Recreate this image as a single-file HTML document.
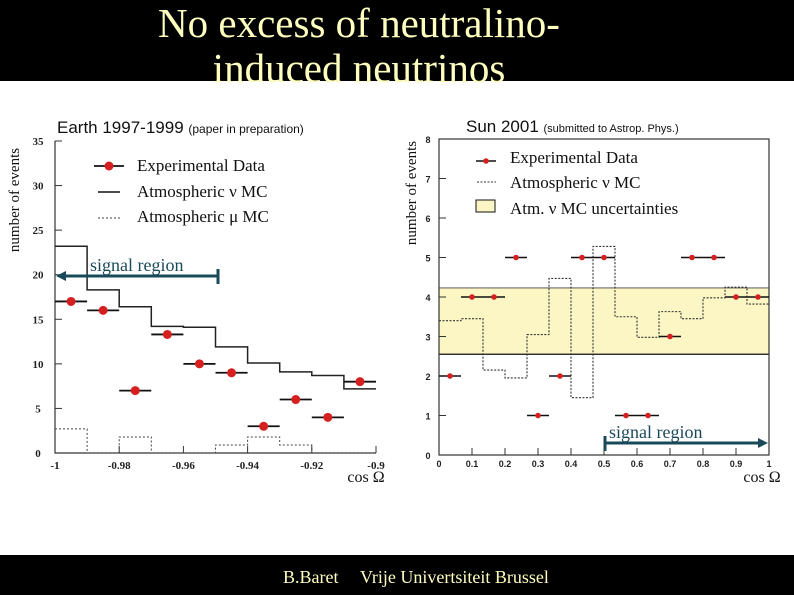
<!DOCTYPE html>
<html><head><meta charset="utf-8"><style>
html,body{margin:0;padding:0;background:#fff;}
svg{display:block;font-family:"Liberation Serif",serif;}
</style></head><body>
<svg id="s" width="794" height="595" xmlns="http://www.w3.org/2000/svg">
<rect x="0" y="0" width="794" height="81" fill="#000"/>
<text x="359" y="37" font-size="41" fill="#ffffc0" text-anchor="middle">No excess of neutralino-</text>
<text x="359" y="82" font-size="41" fill="#ffffc0" text-anchor="middle">induced neutrinos</text>
<text x="57" y="133" font-family="Liberation Sans,sans-serif" font-size="17" fill="#111">Earth 1997-1999 <tspan font-size="12">(paper in preparation)</tspan></text>
<text x="466" y="132" font-family="Liberation Sans,sans-serif" font-size="17" fill="#111">Sun 2001 <tspan font-size="11">(submitted to Astrop. Phys.)</tspan></text>
<g id="L"></g>
<g id="R"></g>
<rect x="0" y="555" width="794" height="40" fill="#000"/>
<text x="283" y="583" font-size="18" fill="#ffffc0">B.Baret</text>
<text x="360" y="583" font-size="18" fill="#ffffc0">Vrije Univertsiteit Brussel</text>
</svg>
<script>
// Earth chart data
const earthEdges=[-1,-0.99,-0.98,-0.97,-0.96,-0.95,-0.94,-0.93,-0.92,-0.91,-0.9];
const earthData=[17,16,7,13.3,10,9,3,6,4,8];
const earthNuMC=[23.2,18.3,16.4,14.2,14.1,11.9,10.1,9.1,8.7,7.2];
const earthMuMC=[2.7,0,1.8,0,0,0.9,1.8,0.9,0,0];
const earthXTicks=[-1,-0.98,-0.96,-0.94,-0.92,-0.9];
const earthXLabels=["-1","-0.98","-0.96","-0.94","-0.92","-0.9"];
const earthYTicks=[0,5,10,15,20,25,30,35];
// Sun chart data
const sunEdges=[0,0.0667,0.1333,0.2,0.2667,0.3333,0.4,0.4667,0.5333,0.6,0.6667,0.7333,0.8,0.8667,0.9333,1];
const sunData=[2,4,4,5,1,2,5,5,1,1,3,5,5,4,4];
const sunMC=[3.4,3.45,2.15,1.95,3.05,4.47,1.45,5.28,3.5,2.98,3.63,3.45,3.98,4.25,3.82];
const sunBand=[2.55,4.23];
const sunXTicks=[0,0.1,0.2,0.3,0.4,0.5,0.6,0.7,0.8,0.9,1];
const sunXLabels=["0","0.1","0.2","0.3","0.4","0.5","0.6","0.7","0.8","0.9","1"];
const sunYTicks=[0,1,2,3,4,5,6,7,8];

const NS="http://www.w3.org/2000/svg";
function mk(p,t,a){const e=document.createElementNS(NS,t);for(const k in a)e.setAttribute(k,a[k]);p.appendChild(e);return e;}
function stepPath(edges,vals,sx,sy){let d="M"+sx(edges[0])+","+sy(vals[0]);for(let i=0;i<vals.length;i++){d+=" L"+sx(edges[i])+","+sy(vals[i])+" L"+sx(edges[i+1])+","+sy(vals[i]);if(i+1<vals.length)d+=" L"+sx(edges[i+1])+","+sy(vals[i+1]);}return d;}

// LEFT
(function(){
const g=document.getElementById('L');
const x0=55,x1=376,y0=453,y1=141;
const sx=v=>x0+(v+1)/0.1*(x1-x0), sy=v=>y0-v/35*(y0-y1);
let e=mk(g,'path',{d:`M${x0},${y1} L${x0},${y0} L${x1},${y0}`,fill:'none',stroke:'#333','stroke-width':1.2});


earthYTicks.forEach(t=>{
 let l=mk(g,'line',{x1:x0,x2:x0+7,y1:sy(t),y2:sy(t),stroke:'#333'});
 
 
 let tx=mk(g,'text',{x:x0-17,y:sy(t)+4,'font-size':11,'font-weight':'bold','text-anchor':'middle',fill:'#222'});tx.textContent=t;
 
 
});
earthXTicks.forEach((t,i)=>{
 let l=mk(g,'line',{x1:sx(t),x2:sx(t),y1:y0,y2:y0-7,stroke:'#333'});
 
 
 let tx=mk(g,'text',{x:sx(t),y:y0+16,'font-size':11,'font-weight':'bold','text-anchor':'middle',fill:'#222'});tx.textContent=earthXLabels[i];
 
 
});
let mc=mk(g,'path',{d:stepPath(earthEdges,earthNuMC,sx,sy),fill:'none',stroke:'#222','stroke-width':1.5});


let mu=mk(g,'path',{d:stepPath(earthEdges,earthMuMC,sx,sy),fill:'none',stroke:'#444','stroke-width':1,'stroke-dasharray':'2,2'});


earthData.forEach((v,i)=>{
 const a=sx(earthEdges[i]),b=sx(earthEdges[i+1]);
 let l=mk(g,'line',{x1:a,x2:b,y1:sy(v),y2:sy(v),stroke:'#111','stroke-width':1.8});
 
 
 let c=mk(g,'circle',{cx:(a+b)/2,cy:sy(v),r:4.5,fill:'#d62020'});
 
 
});
let yt=mk(g,'text',{transform:'translate(19,200) rotate(-90)','font-size':15,'text-anchor':'middle',fill:'#111'});yt.textContent='number of events';


let xt=mk(g,'text',{x:366,y:482,'font-size':16,'text-anchor':'middle',fill:'#111'});xt.textContent='cos Ω';


const lg=mk(g,'g',{});
mk(lg,'line',{x1:94,x2:124,y1:166,y2:166,stroke:'#111','stroke-width':1.8});
mk(lg,'circle',{cx:109,cy:166,r:4.5,fill:'#d62020'});
mk(lg,'line',{x1:98,x2:120,y1:192,y2:192,stroke:'#111','stroke-width':1.5});
mk(lg,'line',{x1:98,x2:120,y1:218,y2:218,stroke:'#444','stroke-dasharray':'2,2'});
[['Experimental Data',171],['Atmospheric ν MC',197],['Atmospheric μ MC',222]].forEach(([t,y])=>{let tx=mk(lg,'text',{x:137,y:y,'font-size':17,fill:'#111'});tx.textContent=t;

});
let sr=mk(g,'g',{});
mk(sr,'line',{x1:62,x2:218,y1:276,y2:276,stroke:'#1a4a5a','stroke-width':3});
mk(sr,'path',{d:'M56,276 L66,271 L66,281 Z',fill:'#1a4a5a'});
mk(sr,'line',{x1:218,x2:218,y1:269,y2:284,stroke:'#1a4a5a','stroke-width':3});
let st=mk(sr,'text',{x:90,y:271,'font-size':18,fill:'#1a4a5a'});st.textContent='signal region';
})();

// RIGHT
(function(){
const g=document.getElementById('R');
const x0=439,x1=769,y0=455,y1=139;
const sx=v=>x0+v*(x1-x0), sy=v=>y0-v/8*(y0-y1);
let band=mk(g,'rect',{x:x0,y:sy(sunBand[1]),width:x1-x0,height:sy(sunBand[0])-sy(sunBand[1]),fill:'#fbf6c4'});


let bl=mk(g,'line',{x1:x0,x2:x1,y1:sy(sunBand[0]),y2:sy(sunBand[0]),stroke:'#111','stroke-width':1.3});


let bu=mk(g,'line',{x1:x0,x2:x1,y1:sy(sunBand[1]),y2:sy(sunBand[1]),stroke:'#444','stroke-width':0.8});


let ax=mk(g,'rect',{x:x0,y:y1,width:x1-x0,height:y0-y1,fill:'none',stroke:'#333','stroke-width':1.2});


sunYTicks.forEach(t=>{
 let l=mk(g,'line',{x1:x0,x2:x0+7,y1:sy(t),y2:sy(t),stroke:'#333'});
 
 
 let tx=mk(g,'text',{x:x0-11,y:sy(t)+4,'font-size':9,'font-family':'Liberation Sans,sans-serif','font-weight':'bold','text-anchor':'middle',fill:'#222'});tx.textContent=t;
 
 
});
sunXTicks.forEach((t,i)=>{
 let l=mk(g,'line',{x1:sx(t),x2:sx(t),y1:y0,y2:y0-7,stroke:'#333'});
 
 
 let tx=mk(g,'text',{x:sx(t),y:y0+12,'font-size':9,'font-family':'Liberation Sans,sans-serif','font-weight':'bold','text-anchor':'middle',fill:'#222'});tx.textContent=sunXLabels[i];
 
 
});
let mc=mk(g,'path',{d:stepPath(sunEdges,sunMC,sx,sy),fill:'none',stroke:'#333','stroke-width':1.1,'stroke-dasharray':'2,1.5'});


sunData.forEach((v,i)=>{
 const a=sx(sunEdges[i]),b=sx(sunEdges[i+1]);
 let l=mk(g,'line',{x1:a,x2:b,y1:sy(v),y2:sy(v),stroke:'#111','stroke-width':1.5});
 
 
 let c=mk(g,'circle',{cx:(a+b)/2,cy:sy(v),r:2.8,fill:'#d62020'});
 
 
});
let yt=mk(g,'text',{transform:'translate(416,193) rotate(-90)','font-size':15,'text-anchor':'middle',fill:'#111'});yt.textContent='number of events';


let xt=mk(g,'text',{x:762,y:482,'font-size':16,'text-anchor':'middle',fill:'#111'});xt.textContent='cos Ω';


const lg=mk(g,'g',{});
mk(lg,'line',{x1:476,x2:496,y1:161,y2:161,stroke:'#111','stroke-width':1.5});
mk(lg,'circle',{cx:486,cy:161,r:2.8,fill:'#d62020'});
mk(lg,'line',{x1:477,x2:496,y1:182,y2:182,stroke:'#333','stroke-dasharray':'2,1.5'});
mk(lg,'rect',{x:476,y:200,width:19,height:12,fill:'#fbf6c4',stroke:'#111'});
[['Experimental Data',163],['Atmospheric ν MC',188],['Atm. ν MC uncertainties',214]].forEach(([t,y])=>{let tx=mk(lg,'text',{x:510,y:y,'font-size':17,fill:'#111'});tx.textContent=t;

});
let sr=mk(g,'g',{});
mk(sr,'line',{x1:605,x2:760,y1:443,y2:443,stroke:'#1a4a5a','stroke-width':3});
mk(sr,'path',{d:'M768,443 L758,438 L758,448 Z',fill:'#1a4a5a'});
mk(sr,'line',{x1:605,x2:605,y1:436,y2:451,stroke:'#1a4a5a','stroke-width':3});
let st=mk(sr,'text',{x:609,y:438,'font-size':18,fill:'#1a4a5a'});st.textContent='signal region';
})();
</script>
</body></html>
